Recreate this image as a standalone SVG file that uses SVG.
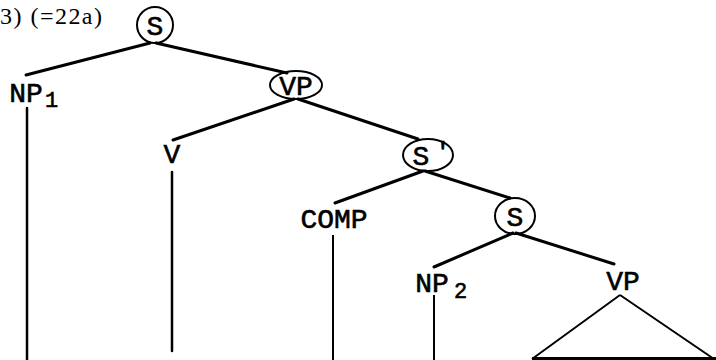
<svg xmlns="http://www.w3.org/2000/svg" width="716" height="360" viewBox="0 0 716 360">
<style>
.t{font-family:"Liberation Mono","DejaVu Sans Mono",monospace;font-size:28px;fill:#000;stroke:#000;stroke-width:0.6;text-anchor:middle}
.sub{font-family:"Liberation Mono","DejaVu Sans Mono",monospace;font-size:22px;fill:#000;stroke:#000;stroke-width:0.6}
.lbl{font-family:"Liberation Serif","DejaVu Serif",serif;font-size:24px;fill:#000}
.ring{fill:none;stroke:#000;stroke-width:2}
.e{stroke:#000;stroke-width:3;stroke-linecap:round;fill:none}
.v{stroke:#000;stroke-width:2.5;stroke-linecap:round;fill:none}
.v2{stroke:#000;stroke-width:2;fill:none}
</style>
<rect width="716" height="360" fill="#fff"/>
<text class="lbl" x="0" y="24" textLength="102" lengthAdjust="spacing">3) (=22a)</text>
<g id="connectors">
<line class="e" x1="150" y1="43" x2="26" y2="75"/>
<line class="e" x1="156" y1="43" x2="287" y2="73"/>
<line class="e" x1="294" y1="99" x2="173" y2="140"/>
<line class="e" x1="298" y1="99" x2="418" y2="139"/>
<line class="e" x1="423" y1="171" x2="335" y2="203"/>
<line class="e" x1="425" y1="171" x2="510" y2="198"/>
<line class="e" x1="513" y1="233" x2="434" y2="267"/>
<line class="e" x1="516" y1="233" x2="614" y2="264"/>
<line class="v" x1="27" y1="108" x2="27" y2="362"/>
<line class="v" x1="172" y1="172" x2="172" y2="351"/>
<line class="v2" x1="333" y1="235" x2="333" y2="362"/>
<line class="v2" x1="434" y1="295" x2="434" y2="362"/>
<path class="v2" d="M620 295 L532 359 M620 295 L714 359"/>
<line x1="532" y1="358.5" x2="716" y2="358.5" stroke="#000" stroke-width="3"/>
</g>
<g id="S_top">
<circle class="ring" cx="155" cy="25" r="18"/>
<text class="t" x="155" y="35">S</text>
</g>
<g id="NP1">
<text class="t" x="26" y="102">NP</text>
<text class="sub" x="45" y="107">1</text>
</g>
<g id="VP_top">
<ellipse class="ring" cx="296" cy="85" rx="26" ry="14"/>
<text class="t" x="296" y="95">VP</text>
</g>
<g id="V">
<text class="t" x="172" y="163">V</text>
</g>
<g id="S_prime">
<ellipse class="ring" cx="428" cy="155" rx="25" ry="16"/>
<text class="t" x="421" y="165">S</text>
<text class="sub" x="435" y="160" style="font-size:26px">'</text>
</g>
<g id="COMP">
<text class="t" x="334" y="228">COMP</text>
</g>
<g id="S_low">
<ellipse class="ring" cx="515" cy="216" rx="20" ry="18"/>
<text class="t" x="515" y="226">S</text>
</g>
<g id="NP2">
<text class="t" x="432" y="292">NP</text>
<text class="sub" x="454" y="298">2</text>
</g>
<g id="VP_low">
<text class="t" x="623" y="290">VP</text>
</g>
</svg>
